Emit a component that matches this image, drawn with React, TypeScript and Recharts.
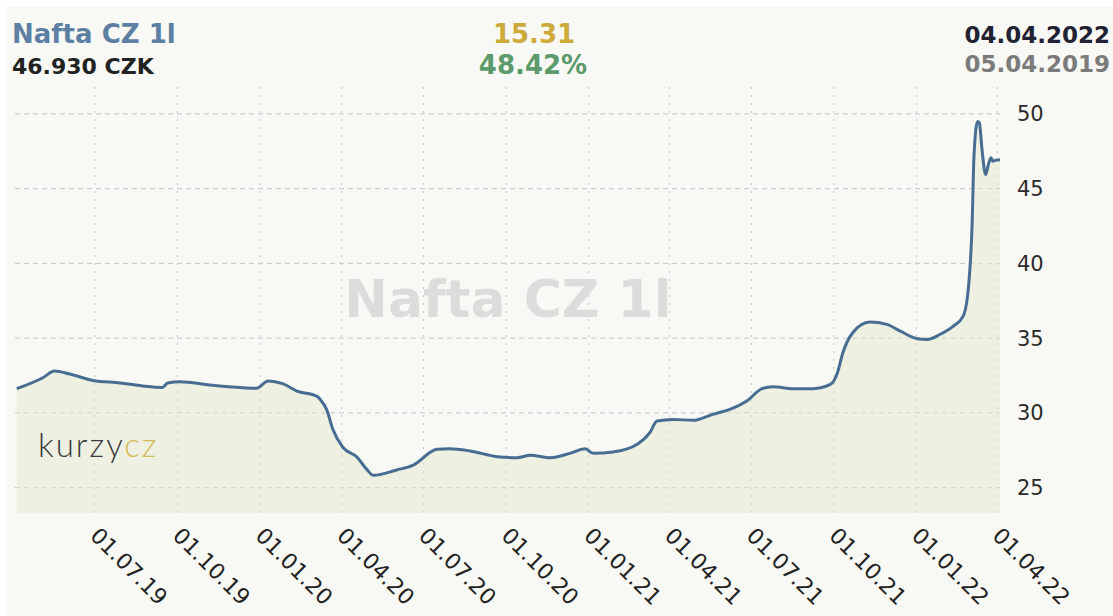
import React from "react";
import {
  ComposedChart,
  Area,
  XAxis,
  YAxis,
  CartesianGrid,
} from "recharts";

// daily price samples (CZK per litre)
const dates = [
  "2019-04-05", "2019-05-04", "2019-05-17", "2019-06-03", "2019-06-29",
  "2019-07-29", "2019-08-23", "2019-09-14", "2019-09-20", "2019-10-04",
  "2019-11-06", "2019-12-13", "2019-12-28", "2020-01-10", "2020-01-26",
  "2020-02-11", "2020-03-04", "2020-03-08", "2020-03-15", "2020-03-22",
  "2020-04-02", "2020-04-18", "2020-04-29", "2020-05-06", "2020-06-01",
  "2020-06-19", "2020-07-16", "2020-07-30", "2020-08-22", "2020-09-21",
  "2020-10-13", "2020-10-28", "2020-11-19", "2020-12-11", "2020-12-28",
  "2021-01-06", "2021-01-28", "2021-02-24", "2021-03-10", "2021-03-18",
  "2021-04-05", "2021-04-27", "2021-05-19", "2021-06-07", "2021-06-26",
  "2021-07-13", "2021-07-25", "2021-08-17", "2021-09-08", "2021-09-27",
  "2021-10-05", "2021-10-11", "2021-10-22", "2021-11-10", "2021-11-29",
  "2021-12-14", "2022-01-02", "2022-01-13", "2022-01-27", "2022-02-11",
  "2022-02-22", "2022-02-28", "2022-03-04", "2022-03-06", "2022-03-10",
  "2022-03-12", "2022-03-15", "2022-03-19", "2022-03-22", "2022-03-25",
  "2022-03-27", "2022-03-30", "2022-04-04",
];

const prices = [
  31.62, 32.35, 32.8, 32.6, 32.17,
  32.0, 31.8, 31.7, 32.0, 32.08,
  31.86, 31.68, 31.64, 32.13, 31.95,
  31.46, 31.12, 30.9, 30.23, 28.9,
  27.7, 27.03, 26.2, 25.82, 26.18,
  26.49, 27.56, 27.6, 27.45, 27.07,
  27.0, 27.16, 27.0, 27.29, 27.6,
  27.29, 27.38, 27.9, 28.67, 29.45,
  29.56, 29.5, 29.9, 30.23, 30.79,
  31.62, 31.75, 31.62, 31.62, 31.9,
  32.69, 34.02, 35.36, 36.07, 35.92,
  35.47, 34.96, 34.91, 35.24, 35.8,
  36.47, 38.48, 42.7, 47.17, 49.5,
  49.4, 47.6, 45.94, 46.6, 47.06,
  46.83, 46.9, 46.93,
];

const tickDates = [
  "2019-07-01", "2019-10-01", "2020-01-01", "2020-04-01", "2020-07-01",
  "2020-10-01", "2021-01-01", "2021-04-01", "2021-07-01", "2021-10-01",
  "2022-01-01", "2022-04-01",
];
const tickLabels = [
  "01.07.19", "01.10.19", "01.01.20", "01.04.20", "01.07.20",
  "01.10.20", "01.01.21", "01.04.21", "01.07.21", "01.10.21",
  "01.01.22", "01.04.22",
];
const yTicks = [25, 30, 35, 40, 45, 50];
const yDomain = [23.3, 51.8];
const xDomain = ["2019-04-03", "2022-04-04"];

const toTime = (s: string) => {
  const [y, m, d] = s.split("-").map(Number);
  return Date.UTC(y, m - 1, d);
};

const data = dates.map((d, i) => ({ t: toTime(d), v: prices[i] }));
const tickTimes = tickDates.map(toTime);
const xMin = toTime(xDomain[0]);
const xMax = toTime(xDomain[1]);

const FONT = "'DejaVu Sans', Verdana, sans-serif";

function DateTick(props: any) {
  const { x, payload } = props;
  const idx = tickTimes.indexOf(payload.value);
  const label = idx >= 0 ? tickLabels[idx] : "";
  return (
    <text
      x={0}
      y={0}
      transform={`translate(${x - 6},537) rotate(45)`}
      fontSize={22}
      fontFamily={FONT}
      fill="#222"
      textAnchor="start"
    >
      {label}
    </text>
  );
}

// grid only at the tick values, not at the plot edges
const hLines = ({ offset }: any) =>
  yTicks.map(
    (v) => offset.top + (offset.height * (yDomain[1] - v)) / (yDomain[1] - yDomain[0])
  );
const vLines = ({ offset }: any) =>
  tickTimes.map((t) => offset.left + (offset.width * (t - xMin)) / (xMax - xMin));

export default function App() {
  return (
    <div style={wrapStyle}>
      <div style={panelStyle} />
      <ComposedChart
        width={1113}
        height={616}
        data={data}
        margin={{ top: 87, right: 0, bottom: 0, left: 15 }}
        style={{ position: "absolute", left: 0, top: 0 }}
      >
        <CartesianGrid
          horizontal={true}
          vertical={false}
          horizontalCoordinatesGenerator={hLines}
          stroke="#c4c4c4"
          strokeDasharray="5 4"
        />
        <CartesianGrid
          horizontal={false}
          vertical={true}
          verticalCoordinatesGenerator={vLines}
          stroke="#c4c4c4"
          strokeDasharray="2 6"
        />
        <XAxis
          type="number"
          dataKey="t"
          domain={[xMin, xMax]}
          ticks={tickTimes}
          interval={0}
          height={103}
          tickSize={0}
          tickMargin={0}
          axisLine={false}
          tickLine={false}
          tick={<DateTick />}
          allowDataOverflow
        />
        <YAxis
          orientation="right"
          domain={yDomain}
          ticks={yTicks}
          width={113}
          tickSize={0}
          tickMargin={17}
          axisLine={false}
          tickLine={false}
          tick={{ fontSize: 21, fill: "#2b2b2b", fontFamily: FONT }}
          allowDataOverflow
        />
        <Area
          type="monotone"
          dataKey="v"
          stroke="#476d93"
          strokeWidth={3}
          fill="#e3e8d0"
          fillOpacity={0.5}
          dot={false}
          activeDot={false}
          isAnimationActive={false}
        />
      </ComposedChart>
      <svg width={1113} height={616} style={overlayStyle}>
        <text x={508} y={317} textAnchor="middle" fontFamily={FONT} fontWeight="bold" fontSize={52} fill="#dcdcdc">
          Nafta CZ 1l
        </text>
        <text x={38} y={457} fontFamily="Lato, 'Open Sans', sans-serif" fontWeight={300} fontSize={33} letterSpacing={2}>
          <tspan fill="#3a3a3a">kurzy</tspan>
          <tspan fill="#d4bb52">cz</tspan>
        </text>
        <text x={12} y={43} fontFamily={FONT} fontWeight="bold" fontSize={26} fill="#5d7fa3">
          Nafta CZ 1l
        </text>
        <text x={12} y={74} fontFamily={FONT} fontWeight="bold" fontSize={22} fill="#222">
          46.930 CZK
        </text>
        <text x={534} y={43} textAnchor="middle" fontFamily={FONT} fontWeight="bold" fontSize={26} fill="#cdaa3a">
          15.31
        </text>
        <text x={533} y={74} textAnchor="middle" fontFamily={FONT} fontWeight="bold" fontSize={26} fill="#5c9a6c">
          48.42%
        </text>
        <text x={1110} y={43} textAnchor="end" fontFamily={FONT} fontWeight="bold" fontSize={23} fill="#222233">
          04.04.2022
        </text>
        <text x={1110} y={72} textAnchor="end" fontFamily={FONT} fontWeight="bold" fontSize={23} fill="#7b7b7b">
          05.04.2019
        </text>
      </svg>
    </div>
  );
}

const wrapStyle: React.CSSProperties = {
  position: "absolute",
  left: 0,
  top: 0,
  width: 1113,
  height: 616,
  background: "#fff",
  overflow: "hidden",
};

const panelStyle: React.CSSProperties = {
  position: "absolute",
  left: 6,
  top: 7,
  right: 0,
  bottom: 0,
  background: "#f8f9f4",
};

const overlayStyle: React.CSSProperties = {
  position: "absolute",
  left: 0,
  top: 0,
  pointerEvents: "none",
};
